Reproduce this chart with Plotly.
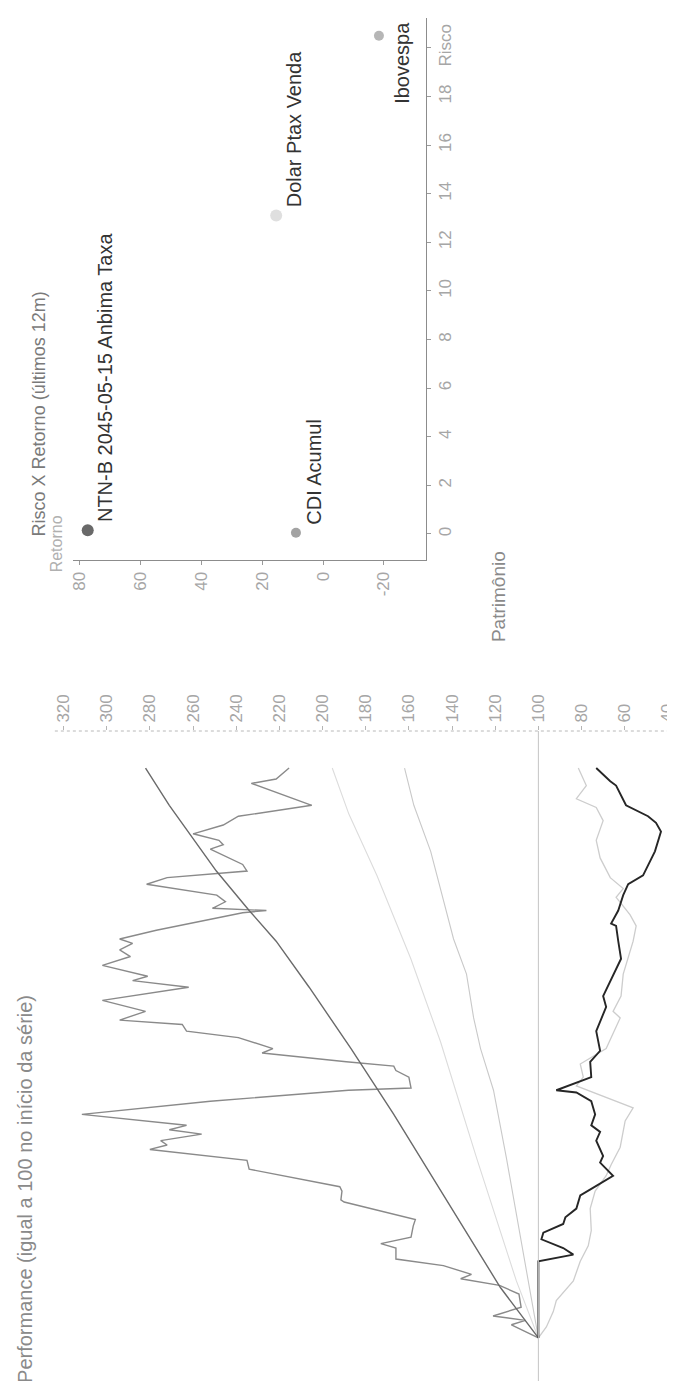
import plotly.graph_objects as go

W, H = 675, 1381

# ---------------- Performance (índice = 100 no início da série) ----------------
# t = posição no tempo (índice de observação), v = valor do índice
ibov_t = [0, 3, 6, 8, 10, 14, 20, 24, 26, 27, 29, 33, 36, 41, 43, 46, 51, 54, 62, 63,
          67, 69, 77, 81, 86, 88, 90, 93, 95, 97, 102, 108, 113, 114, 119, 122, 124, 126, 130, 132,
          137, 140, 143, 145, 149, 154, 160, 163, 165, 170, 174, 177, 180, 182, 186, 194, 195, 196, 199, 202,
          207, 210, 213, 216, 223, 225, 227, 230, 234, 238, 243, 253, 255, 260]
ibov_v = [100, 106, 112.5, 106, 121, 108, 109, 118, 131, 136, 131, 144, 166, 166, 173, 159, 158, 157, 190, 191.5,
          191, 192, 234, 235, 280, 272, 275, 256, 271, 263, 311.5, 252, 188, 159, 160, 166, 167, 189, 228, 223,
          239, 263, 265, 294, 282, 302, 262, 288, 281, 302, 289, 294, 288, 294, 277, 237, 226, 251, 245, 249,
          281.5, 272, 235, 237, 252, 246, 248, 260, 246, 239, 205, 233, 221.5, 215.5]

cdi_t = [0, 23, 65, 102, 132, 160, 181, 195, 213, 230, 243, 260]
cdi_v = [100, 117.6, 143.9, 167, 186.8, 206.2, 221.5, 234, 249.2, 261.7, 271, 282]

ref1_t = [0, 26, 82, 135, 173, 211, 239, 260]
ref1_v = [100, 110.2, 128.6, 145.3, 159.1, 174.8, 187.8, 195.5]

ref2_t = [0, 82, 113, 132, 146, 166, 182, 222, 243, 260]
ref2_v = [100, 114.8, 120.8, 126.8, 130, 133.3, 139.3, 149.9, 157.7, 162]

ntnb_t = [0, 35, 38, 41, 45, 48, 52, 55, 59, 65, 68, 74, 80, 83, 90, 94, 97, 102, 108, 112,
          113, 119, 126, 131, 140, 151, 156, 163, 173, 181, 188, 189, 195, 202, 207, 211, 214, 222, 231, 235,
          238, 243, 252, 254, 260]
ntnb_v = [100, 100, 83.8, 88.5, 98.6, 97.7, 88.5, 87.5, 82.4, 80.6, 75.5, 65.4, 71.4, 70, 73.2, 71.4, 75.5, 73.7, 75.5, 82.4,
          91.7, 75.5, 76, 71.4, 73.2, 68.6, 70, 66.7, 61.7, 63, 64, 66.3, 63, 60.7, 58.4, 51.5, 50.1, 46, 43.2, 45.5,
          49.2, 59.4, 64, 66.7, 73.2]

dolar_t = [0, 5, 12, 17, 26, 35, 42, 49, 59, 67, 74, 79, 87, 99, 105, 115, 119, 125, 132, 146,
           149, 156, 166, 181, 188, 193, 197, 201, 205, 210, 219, 227, 236, 242, 246, 252, 260]
dolar_v = [100, 96.3, 93.1, 91.7, 83.8, 80.6, 76.9, 75.5, 76, 73.7, 68.6, 66.3, 62.1, 59.8, 56.1, 82.4, 79.2, 80.6, 68.6, 62.1,
           65.4, 61.7, 60.7, 56.1, 54.7, 57.5, 60.7, 64, 60.7, 66.7, 71.4, 73.2, 70, 73.2, 82.4, 77.8, 81.5]

perf_ticks = [40, 60, 80, 100, 120, 140, 160, 180, 200, 220, 240, 260, 280, 300, 320]

# ---------------- Risco X Retorno (últimos 12m) ----------------
ativos = ["NTN-B 2045-05-15 Anbima Taxa", "CDI Acumul", "Dolar Ptax Venda", "Ibovespa"]
risco = [0.15, 0.05, 13.1, 20.5]
retorno = [77.4, 8.9, 15.4, -18.4]
risco_ticks = [0, 2, 4, 6, 8, 10, 12, 14, 16, 18, 20]
risco_ticktext = ["0", "2", "4", "6", "8", "10", "12", "14", "16", "18", "Risco"]
retorno_ticks = [-20, 0, 20, 40, 60, 80]
retorno_ticktext = ["-20", "0", "20", "40", "60", "80"]

# ---------------- styling ----------------
FONT = "Liberation Sans"
TICK_COLOR = "#a6a6a6"
perf_style = [
    (ref1_t, ref1_v, "Referência 1", "#dcdcdc", 1.1),
    (ref2_t, ref2_v, "Referência 2", "#c9c9c9", 1.1),
    (dolar_t, dolar_v, "Dolar Ptax Venda", "#cdcdcd", 1.3),
    (ibov_t, ibov_v, "Ibovespa", "#8a8a8a", 1.4),
    (cdi_t, cdi_v, "CDI Acumul", "#6a6a6a", 1.4),
    (ntnb_t, ntnb_v, "NTN-B 2045-05-15 Anbima Taxa", "#262626", 1.9),
]
dot_colors = ["#2a2a2a", "#7c7c7c", "#d2d2d2", "#979797"]
dot_sizes = [12, 10, 12, 10]


def py(px):  # pixel (from top) -> paper y
    return (H - px) / H


def pxx(px):
    return px / W


fig = go.Figure()

for t, v, name, color, width in perf_style:
    fig.add_trace(go.Scatter(x=v, y=t, mode="lines", name=name,
                             line=dict(color=color, width=width),
                             xaxis="x", yaxis="y", showlegend=False))

fig.add_trace(go.Scatter(x=retorno, y=risco, mode="markers", name="Risco X Retorno",
                         marker=dict(color=dot_colors, size=dot_sizes, line=dict(width=0)),
                         xaxis="x2", yaxis="y2", showlegend=False))

perf_top = 723
fig.update_layout(
    width=W, height=H,
    margin=dict(l=0, r=0, t=0, b=0),
    paper_bgcolor="white", plot_bgcolor="rgba(0,0,0,0)",
    font=dict(family=FONT, color=TICK_COLOR),
    xaxis=dict(domain=[0, 1], range=[344.8, 33.0], anchor="y", side="top",
               tickvals=perf_ticks, tickangle=-90, ticks="outside", ticklen=4,
               tickcolor="#b5b5b5", tickfont=dict(size=17, color=TICK_COLOR, family=FONT),
               showgrid=False, zeroline=False, showline=False),
    yaxis=dict(domain=[0, py(perf_top)], range=[-23.3, 276.9], visible=False),
    xaxis2=dict(domain=[pxx(63), pxx(417)], range=[82.3, -33.8], anchor="y2", side="bottom",
                tickvals=retorno_ticks, ticktext=retorno_ticktext, tickangle=-90,
                ticks="outside", ticklen=4,
                tickcolor="#9a9a9a", tickfont=dict(size=17, color=TICK_COLOR, family=FONT),
                showline=True, linecolor="#8c8c8c", linewidth=1,
                showgrid=False, zeroline=False),
    yaxis2=dict(domain=[py(552), py(10)], range=[-1.07, 21.23], anchor="x2", side="right",
                tickvals=risco_ticks, ticktext=risco_ticktext, tickangle=-90,
                ticks="outside", ticklen=4, tickcolor="#9a9a9a",
                tickfont=dict(size=17, color=TICK_COLOR, family=FONT),
                showline=True, linecolor="#8c8c8c", linewidth=1,
                showgrid=False, zeroline=False),
)

# dotted value axis line and the 100 reference line
fig.add_shape(type="line", xref="paper", yref="paper", x0=pxx(45), x1=1,
              y0=py(perf_top), y1=py(perf_top), line=dict(color="#b8b8b8", width=1, dash="dot"))
fig.add_shape(type="line", xref="x", yref="paper", x0=100, x1=100,
              y0=py(1374), y1=py(perf_top), line=dict(color="#c4c4c4", width=1))

# titles
fig.add_annotation(text="Performance (igual a 100 no início da série)", textangle=-90,
                   xref="paper", yref="paper", x=pxx(15), y=py(1377),
                   xanchor="center", yanchor="bottom", showarrow=False,
                   font=dict(size=20, color="#8a8a8a", family=FONT))
fig.add_annotation(text="Risco X Retorno (últimos 12m)", textangle=-90,
                   xref="paper", yref="paper", x=pxx(29), y=py(530),
                   xanchor="center", yanchor="bottom", showarrow=False,
                   font=dict(size=18, color="#7a7a7a", family=FONT))
fig.add_annotation(text="Retorno", textangle=-90,
                   xref="paper", yref="paper", x=pxx(47), y=py(566),
                   xanchor="center", yanchor="bottom", showarrow=False,
                   font=dict(size=16, color="#b0b0b0", family=FONT))
fig.add_annotation(text="Patrimônio", textangle=-90,
                   xref="paper", yref="paper", x=pxx(490), y=py(636),
                   xanchor="center", yanchor="bottom", showarrow=False,
                   font=dict(size=19, color="#8a8a8a", family=FONT))

# point labels
for i, name in enumerate(ativos[:3]):
    fig.add_annotation(text=name, textangle=-90, xref="x2", yref="y2",
                       x=retorno[i], y=risco[i], xshift=18, yshift=6,
                       xanchor="center", yanchor="bottom", showarrow=False,
                       font=dict(size=20, color="#333333", family=FONT))
fig.add_annotation(text=ativos[3], textangle=-90, xref="paper", yref="paper",
                   x=pxx(393), y=py(12), xanchor="center", yanchor="top", showarrow=False,
                   font=dict(size=20, color="#333333", family=FONT))

fig.write_html("out.html")
